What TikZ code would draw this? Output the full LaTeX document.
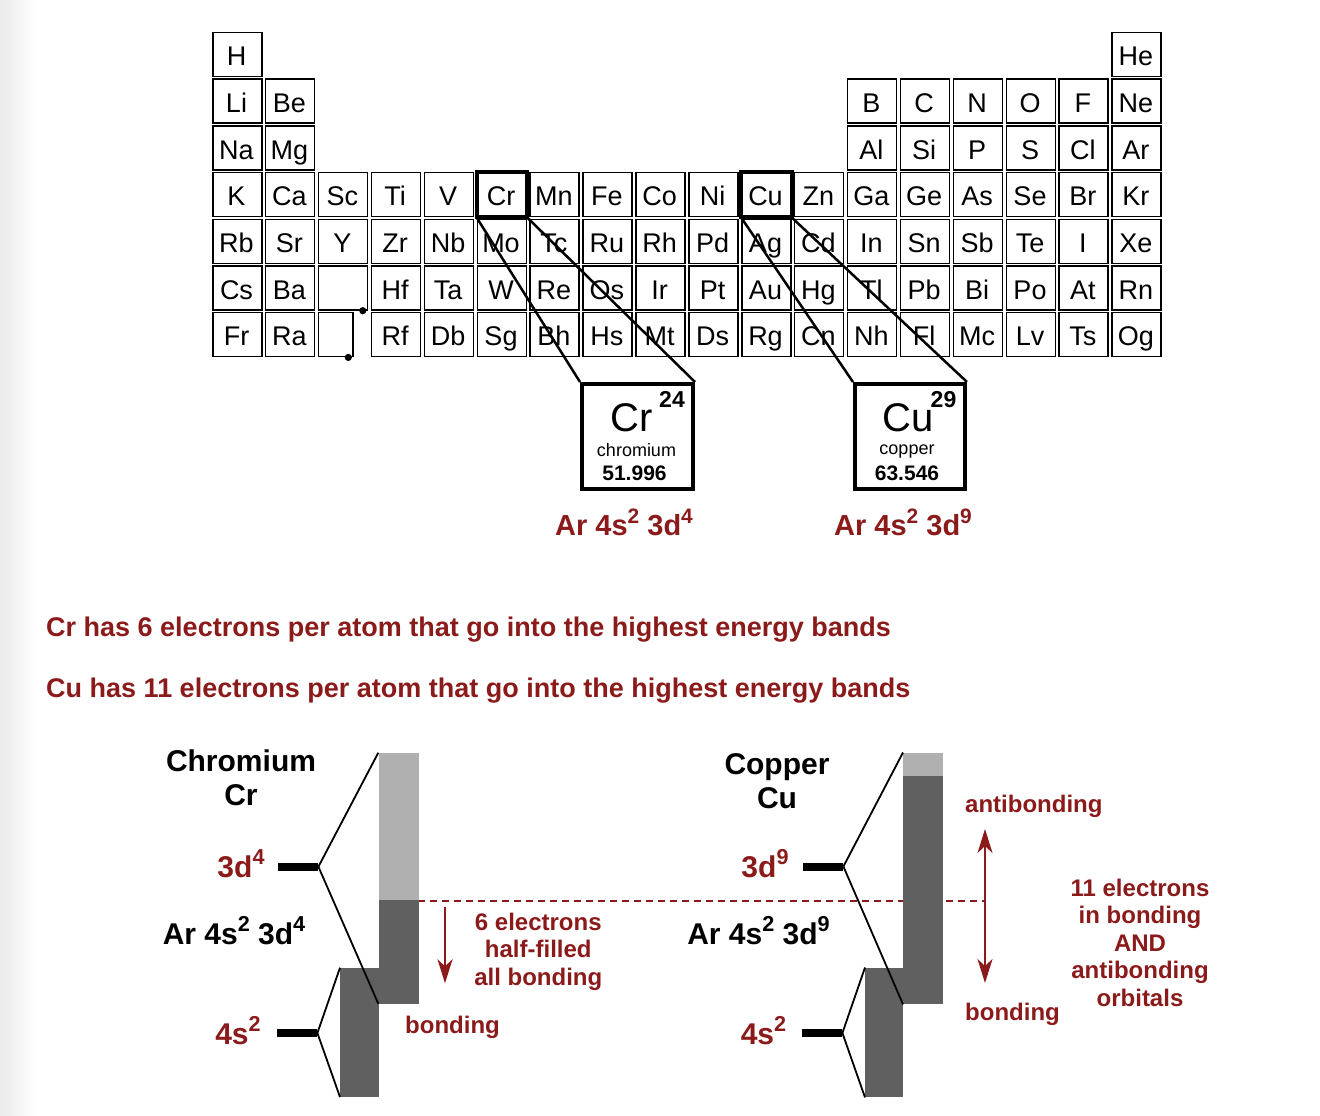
\documentclass[tikz,border=0pt]{standalone}
\usepackage{fontspec}
\setmainfont{Liberation Sans}
\usepackage{graphicx}
\usetikzlibrary{arrows.meta,calc}
\definecolor{dred}{RGB}{139,26,26}
\definecolor{lgray}{RGB}{176,176,176}
\definecolor{dgray}{RGB}{96,96,96}
\newcommand\fsz[1]{\fontsize{#1}{#1}\selectfont}
\newcommand\sps[1]{\raisebox{0.42em}{\scalebox{0.72}{#1}}}
\newcommand\elrow[2]{%
  \foreach \c/\s in {#2}{%
    \pgfmathsetmacro\xx{212+52.9*(\c-1)}%
    \pgfmathsetmacro\yy{31.7+46.7*(#1-1)}%
    \node[cell] (el-\s) at (\xx,\yy) {};
    \node[sym] at (\xx+24.5,\yy+34) {\s};
  }%
}
\begin{document}
\begin{tikzpicture}[x=1pt,y=-1pt,
  cell/.style={draw,line width=1.5pt,minimum width=49pt,minimum height=44pt,inner sep=0pt,anchor=north west},
  sym/.style={anchor=base,inner sep=0pt,font=\fsz{27}},
  hilite/.style={draw,line width=4pt},
  bigbox/.style={draw,line width=4pt,minimum width=111pt,minimum height=105pt,inner sep=0pt,anchor=north west},
  zoomline/.style={line width=2.5pt},
  redtxt/.style={text=dred,font=\bfseries\fsz{27},inner sep=0pt},
  blktxt/.style={text=black,font=\bfseries\fsz{30},inner sep=0pt},
  lbl/.style={text=dred,font=\bfseries\fontsize{24}{27.5}\selectfont,inner sep=0pt},
  bar/.style={fill=black,minimum width=40pt,minimum height=8pt,inner sep=0pt,anchor=west},
  band/.style={minimum width=#1,inner sep=0pt,anchor=north west},
  split/.style={line width=1.8pt},
  redarrow/.style={draw=dred,line width=2pt,-{Stealth[length=24pt,width=15pt,inset=7pt]}},
  reddash/.style={draw=dred,line width=1.4pt,dash pattern=on 7pt off 5pt}
]
\useasboundingbox (0,0) rectangle (1320,1116);
\shade[left color=black!8,right color=white] (0,0) rectangle (36,1116);

% ---------------- periodic table ----------------
\elrow{1}{1/H,18/He}
\elrow{2}{1/Li,2/Be,13/B,14/C,15/N,16/O,17/F,18/Ne}
\elrow{3}{1/Na,2/Mg,13/Al,14/Si,15/P,16/S,17/Cl,18/Ar}
\elrow{4}{1/K,2/Ca,3/Sc,4/Ti,5/V,6/Cr,7/Mn,8/Fe,9/Co,10/Ni,11/Cu,12/Zn,13/Ga,14/Ge,15/As,16/Se,17/Br,18/Kr}
\elrow{5}{1/Rb,2/Sr,3/Y,4/Zr,5/Nb,6/Mo,7/Tc,8/Ru,9/Rh,10/Pd,11/Ag,12/Cd,13/In,14/Sn,15/Sb,16/Te,17/I,18/Xe}
\elrow{6}{1/Cs,2/Ba,4/Hf,5/Ta,6/W,7/Re,8/Os,9/Ir,10/Pt,11/Au,12/Hg,13/Tl,14/Pb,15/Bi,16/Po,17/At,18/Rn}
\elrow{7}{1/Fr,2/Ra,4/Rf,5/Db,6/Sg,7/Bh,8/Hs,9/Mt,10/Ds,11/Rg,12/Cn,13/Nh,14/Fl,15/Mc,16/Lv,17/Ts,18/Og}
% lanthanide / actinide placeholders
\node[cell] (lan) at (317.8,265.2) {};
\node[cell,minimum width=34.5pt] (act) at (317.8,311.9) {};
\fill ($(lan.south east)+(-5.5,0)$) circle (3.6pt);
\fill ($(act.south east)+(-5.5,0)$) circle (3.6pt);

% highlights
\draw[hilite] (el-Cr.north west) rectangle (el-Cr.south east);
\draw[hilite] (el-Cu.north west) rectangle (el-Cu.south east);

% zoomed boxes
\node[bigbox] (crbig) at (580,382) {};
\node[bigbox,minimum width=110pt] (cubig) at (853,382) {};
\draw[zoomline] (el-Cr.south west) -- (crbig.north west);
\draw[zoomline] (el-Cr.south east) -- (crbig.north east);
\draw[zoomline] (el-Cu.south west) -- (cubig.north west);
\draw[zoomline] (el-Cu.south east) -- (cubig.north east);

\node[anchor=base,inner sep=0pt,font=\fsz{40}] (crsym) at (632,431.7) {Cr};
\node[anchor=base,inner sep=0pt,font=\bfseries\fsz{23}] (crnum) at (672,407) {24};
\node[anchor=base,inner sep=0pt,font=\fsz{18}] (crname) at (636.5,456) {chromium};
\node[anchor=base,inner sep=0pt,font=\bfseries\fsz{21}] (crmass) at (634.5,480.7) {51.996};

\node[anchor=base,inner sep=0pt,font=\fsz{40}] (cusym) at (908,431.7) {Cu};
\node[anchor=base,inner sep=0pt,font=\bfseries\fsz{23}] (cunum) at (943.5,407) {29};
\node[anchor=base,inner sep=0pt,font=\fsz{18}] (cuname) at (907,454) {copper};
\node[anchor=base,inner sep=0pt,font=\bfseries\fsz{21}] (cumass) at (907,480.7) {63.546};

\node[redtxt,anchor=base,font=\bfseries\fsz{29}] (crconf) at (624,535.7) {Ar 4s\sps{2} 3d\sps{4}};
\node[redtxt,anchor=base,font=\bfseries\fsz{29}] (cuconf) at (903,535.7) {Ar 4s\sps{2} 3d\sps{9}};

% sentences
\node[redtxt,anchor=base west] (s1) at (46,636) {Cr has 6 electrons per atom that go into the highest energy bands};
\node[redtxt,anchor=base west] (s2) at (46,697.5) {Cu has 11 electrons per atom that go into the highest energy bands};

% ---------------- band diagrams ----------------
\coordinate (dashstart) at (418.3,901);
\coordinate (dashend) at (985,901);
\draw[reddash] (dashstart) -- (dashend);

% chromium
\node[band=40pt,fill=lgray,minimum height=147.3pt] (crdtop) at (378.3,752.7) {};
\node[band=40pt,fill=dgray,minimum height=103.3pt] (crdbot) at (378.3,900) {};
\node[band=38.3pt,fill=dgray,minimum height=129pt] (crs) at (340,967.7) {};
\node[bar] (cr3d) at (278,866.7) {};
\node[bar] (cr4s) at (277,1033) {};
\draw[split] (cr3d.east) -- (crdtop.north west);
\draw[split] (cr3d.east) -- (crdbot.south west);
\draw[split] (cr4s.east) -- (crs.north west);
\draw[split] (cr4s.east) -- (crs.south west);

\node[blktxt,anchor=base,align=center,font=\bfseries\fontsize{30}{33.5}\selectfont] (crtitle) at (241,805) {Chromium\\Cr};
\node[redtxt,anchor=base,font=\bfseries\fsz{30}] (cr3dl) at (241,877) {3d\sps{4}};
\node[blktxt,anchor=base] (crar) at (234,944) {Ar 4s\sps{2} 3d\sps{4}};
\node[redtxt,anchor=base,font=\bfseries\fsz{30}] (cr4sl) at (238,1044) {4s\sps{2}};

\node[lbl,anchor=base,align=center] (crnote) at (538.3,985) {6 electrons\\half-filled\\all bonding};
\coordinate (craTop) at (445,906.7);
\coordinate (craBot) at (445,983.3);
\draw[redarrow] (craTop) -- (craBot);
\node[lbl,anchor=base west] (crbond) at (405,1033) {bonding};

% copper
\node[band=40pt,fill=lgray,minimum height=23.5pt] (cudtop) at (903,752.5) {};
\node[band=40pt,fill=dgray,minimum height=228pt] (cudbot) at (903,776) {};
\node[band=38pt,fill=dgray,minimum height=129.5pt] (cus) at (865,967.5) {};
\node[bar] (cu3d) at (803,866.5) {};
\node[bar] (cu4s) at (802,1033) {};
\draw[split] (cu3d.east) -- (cudtop.north west);
\draw[split] (cu3d.east) -- (cudbot.south west);
\draw[split] (cu4s.east) -- (cus.north west);
\draw[split] (cu4s.east) -- (cus.south west);

\node[blktxt,anchor=base,align=center,font=\bfseries\fontsize{30}{33.5}\selectfont] (cutitle) at (777,808) {Copper\\Cu};
\node[redtxt,anchor=base,font=\bfseries\fsz{30}] (cu3dl) at (765,877) {3d\sps{9}};
\node[blktxt,anchor=base] (cuar) at (758.5,944) {Ar 4s\sps{2} 3d\sps{9}};
\node[redtxt,anchor=base,font=\bfseries\fsz{30}] (cu4sl) at (763.5,1044) {4s\sps{2}};

\node[lbl,anchor=base west] (cuanti) at (965,812) {antibonding};
\node[lbl,anchor=base west] (cubond) at (965,1020) {bonding};
\coordinate (cuaTop) at (985,829);
\coordinate (cuaBot) at (985,983);
\draw[redarrow,{Stealth[length=24pt,width=15pt,inset=7pt]}-{Stealth[length=24pt,width=15pt,inset=7pt]}] (cuaTop) -- (cuaBot);
\node[lbl,anchor=base,align=center] (cunote) at (1140,1006) {11 electrons\\in bonding\\AND\\antibonding\\orbitals};
\end{tikzpicture}
\end{document}
